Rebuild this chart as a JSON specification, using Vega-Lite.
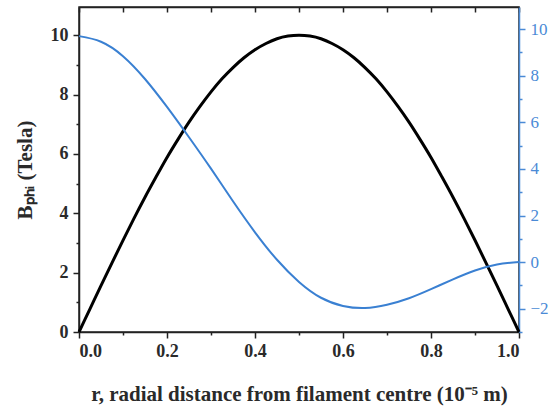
{
  "$schema": "https://vega.github.io/schema/vega-lite/v6.json",
  "width": 440,
  "height": 325,
  "autosize": {"type": "none"},
  "padding": {"left": 79, "top": 7, "right": 32, "bottom": 77},
  "background": "white",
  "config": {
    "view": {"stroke": "#222", "strokeWidth": 1.5},
    "axis": {
      "grid": false,
      "labelFont": "Liberation Serif",
      "titleFont": "Liberation Serif",
      "labelFontSize": 18,
      "labelFontWeight": "bold",
      "titleFontSize": 21,
      "titleFontWeight": "bold",
      "labelColor": "#2a2a2a",
      "titleColor": "#2a2a2a",
      "domainColor": "#222",
      "tickColor": "#222",
      "domainWidth": 1.5,
      "tickWidth": 1.5
    }
  },
  "layer": [
    {
      "data": {
        "values": [
          {"r": 0.0, "bphi": 0.0},
          {"r": 0.025, "bphi": 0.78},
          {"r": 0.05, "bphi": 1.56},
          {"r": 0.075, "bphi": 2.33},
          {"r": 0.1, "bphi": 3.09},
          {"r": 0.125, "bphi": 3.83},
          {"r": 0.15, "bphi": 4.54},
          {"r": 0.175, "bphi": 5.22},
          {"r": 0.2, "bphi": 5.88},
          {"r": 0.225, "bphi": 6.49},
          {"r": 0.25, "bphi": 7.07},
          {"r": 0.275, "bphi": 7.6},
          {"r": 0.3, "bphi": 8.09},
          {"r": 0.325, "bphi": 8.53},
          {"r": 0.35, "bphi": 8.91},
          {"r": 0.375, "bphi": 9.24},
          {"r": 0.4, "bphi": 9.51},
          {"r": 0.425, "bphi": 9.72},
          {"r": 0.45, "bphi": 9.88},
          {"r": 0.475, "bphi": 9.97},
          {"r": 0.5, "bphi": 10.0},
          {"r": 0.525, "bphi": 9.97},
          {"r": 0.55, "bphi": 9.88},
          {"r": 0.575, "bphi": 9.72},
          {"r": 0.6, "bphi": 9.51},
          {"r": 0.625, "bphi": 9.24},
          {"r": 0.65, "bphi": 8.91},
          {"r": 0.675, "bphi": 8.53},
          {"r": 0.7, "bphi": 8.09},
          {"r": 0.725, "bphi": 7.6},
          {"r": 0.75, "bphi": 7.07},
          {"r": 0.775, "bphi": 6.49},
          {"r": 0.8, "bphi": 5.88},
          {"r": 0.825, "bphi": 5.22},
          {"r": 0.85, "bphi": 4.54},
          {"r": 0.875, "bphi": 3.83},
          {"r": 0.9, "bphi": 3.09},
          {"r": 0.925, "bphi": 2.33},
          {"r": 0.95, "bphi": 1.56},
          {"r": 0.975, "bphi": 0.78},
          {"r": 1.0, "bphi": 0.0}
        ]
      },
      "mark": {"type": "line", "color": "#000000", "strokeWidth": 3, "interpolate": "monotone"},
      "encoding": {
        "x": {
          "field": "r",
          "type": "quantitative",
          "scale": {"domain": [0, 1], "nice": false, "zero": false},
          "axis": {
            "orient": "bottom",
            "title": "r, radial distance from filament centre (10⁻⁵ m)",
            "values": [0, 0.1, 0.2, 0.3, 0.4, 0.5, 0.6, 0.7, 0.8, 0.9, 1.0],
            "format": ".1f",
            "labelExpr": "round(datum.value * 10) % 2 === 0 ? datum.label : ''",
            "tickSize": {"condition": {"test": "round(datum.value * 10) % 2 === 0", "value": 6}, "value": 3},
            "labelPadding": 4,
            "titlePadding": 23
          }
        },
        "y": {
          "field": "bphi",
          "type": "quantitative",
          "scale": {"domain": [0, 10.95], "nice": false},
          "axis": {
            "orient": "left",
            "title": "Bₚₕᵢ (Tesla)",
            "values": [0, 1, 2, 3, 4, 5, 6, 7, 8, 9, 10],
            "labelExpr": "datum.value % 2 === 0 ? datum.label : ''",
            "tickSize": {"condition": {"test": "datum.value % 2 === 0", "value": 6}, "value": 3},
            "labelPadding": 5,
            "titlePadding": 15
          }
        }
      }
    },
    {
      "data": {
        "values": [
          {"r": 0.0, "bz": 9.7},
          {"r": 0.05, "bz": 9.46},
          {"r": 0.1, "bz": 8.84},
          {"r": 0.15, "bz": 7.86},
          {"r": 0.2, "bz": 6.66},
          {"r": 0.25, "bz": 5.36},
          {"r": 0.3, "bz": 4.01},
          {"r": 0.35, "bz": 2.61},
          {"r": 0.4, "bz": 1.28},
          {"r": 0.45, "bz": 0.1},
          {"r": 0.5, "bz": -0.85},
          {"r": 0.55, "bz": -1.53},
          {"r": 0.6, "bz": -1.88},
          {"r": 0.65, "bz": -1.97},
          {"r": 0.7, "bz": -1.83},
          {"r": 0.75, "bz": -1.55},
          {"r": 0.8, "bz": -1.16},
          {"r": 0.85, "bz": -0.74},
          {"r": 0.9, "bz": -0.36},
          {"r": 0.95, "bz": -0.1},
          {"r": 1.0, "bz": 0.0}
        ]
      },
      "mark": {"type": "line", "color": "#3a80d2", "strokeWidth": 2, "interpolate": "natural"},
      "encoding": {
        "x": {
          "field": "r",
          "type": "quantitative",
          "scale": {"domain": [0, 1], "nice": false, "zero": false},
          "axis": {
            "orient": "top",
            "title": null,
            "labels": false,
            "values": [0, 0.1, 0.2, 0.3, 0.4, 0.5, 0.6, 0.7, 0.8, 0.9, 1.0],
            "tickSize": -5
          }
        },
        "y": {
          "field": "bz",
          "type": "quantitative",
          "scale": {"domain": [-3, 10.95], "nice": false, "zero": false},
          "axis": {
            "orient": "right",
            "title": null,
            "values": [-3, -2, -1, 0, 1, 2, 3, 4, 5, 6, 7, 8, 9, 10],
            "labelExpr": "datum.value % 2 === 0 ? datum.label : ''",
            "tickSize": {"condition": {"test": "datum.value % 2 === 0", "value": 6}, "value": 3},
            "labelPadding": 5,
            "labelFontSize": 17,
            "labelColor": "#4a8ad6",
            "labelFontWeight": "normal",
            "domainColor": "#4a8ad6",
            "tickColor": "#4a8ad6"
          }
        }
      }
    }
  ],
  "resolve": {"scale": {"y": "independent"}, "axis": {"x": "independent"}}
}
